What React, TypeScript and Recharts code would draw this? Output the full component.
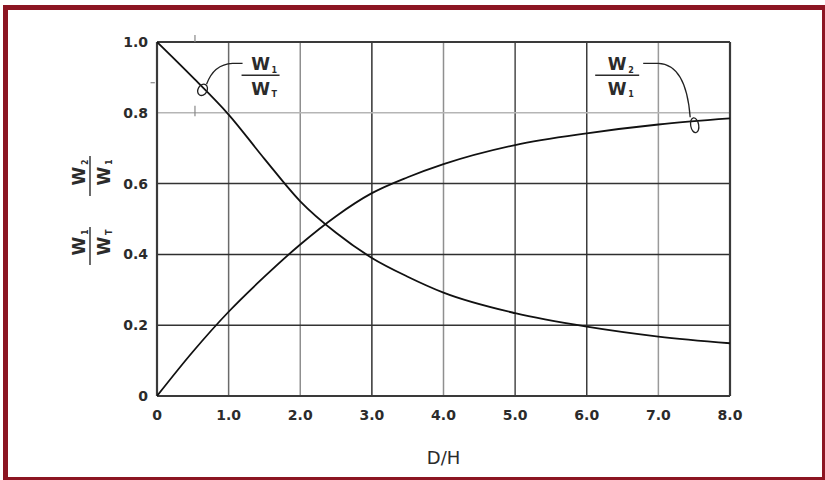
import React from "react";
import {
  LineChart,
  Line,
  XAxis,
  YAxis,
  ReferenceLine,
  ReferenceDot,
} from "recharts";

// D/H values along the x axis
const dOverH = [0, 0.5, 1, 1.5, 2, 2.5, 3, 3.5, 4, 5, 6, 7, 8];
// falling curve W1/WT
const w1OverWt = [1.0, 0.9, 0.795, 0.67, 0.55, 0.461, 0.39, 0.337, 0.292, 0.234, 0.196, 0.168, 0.149];
// rising curve W2/W1
const w2OverW1 = [0, 0.125, 0.238, 0.337, 0.428, 0.508, 0.573, 0.618, 0.655, 0.709, 0.742, 0.767, 0.784];

const xTicks = [0, 1, 2, 3, 4, 5, 6, 7, 8];
const yTicks = [0, 0.2, 0.4, 0.6, 0.8, 1.0];
const xGrid = [1, 2, 3, 4, 5, 6, 7];
const yGrid = [0.2, 0.4, 0.6, 0.8];

const data = dOverH.map((x, i) => ({ x, w1wt: w1OverWt[i], w2w1: w2OverW1[i] }));

// scanned look: some grid lines came out lighter than others
const xGridColor: Record<number, string> = {
  1: "#6a6a6a", 2: "#8f8f8f", 3: "#333", 4: "#8f8f8f", 5: "#4a4a4a", 6: "#3c3c3c", 7: "#9a9a9a",
};
const yGridColor: Record<number, string> = { 0.2: "#333", 0.4: "#2e2e2e", 0.6: "#333", 0.8: "#b5b5b5" };

// stray scan marks near the top-left corner
const strayMarks = [
  [{ x: 0.53, y: 1.0 }, { x: 0.53, y: 1.02 }],
  [{ x: 0.53, y: 0.79 }, { x: 0.53, y: 0.82 }],
  [{ x: -0.09, y: 0.885 }, { x: -0.03, y: 0.885 }],
];

const FONT = "'DejaVu Sans', Arial, sans-serif";
const INK = "#2b2b2b";

const fmt = (v: number) => (v === 0 ? "0" : v.toFixed(1));

// a small "W over W" fraction, drawn around (0,0) = centre of the bar
function Fraction({ num, den, w = 40 }: { num: string; den: string; w?: number }) {
  const wStyle = { fontFamily: FONT, fontWeight: "bold" as const, fontSize: 17, fill: INK };
  const subStyle = { fontFamily: FONT, fontWeight: "bold" as const, fontSize: 8, fill: INK };
  return (
    <g>
      <text x={0} y={-5} textAnchor="middle" style={wStyle}>W</text>
      <text x={11} y={-2} style={subStyle}>{num}</text>
      <line x1={-w / 2} x2={w / 2} y1={0} y2={0} stroke={INK} strokeWidth={1.4} />
      <text x={0} y={20} textAnchor="middle" style={wStyle}>W</text>
      <text x={11} y={22} style={subStyle}>{den}</text>
    </g>
  );
}

// loop + leader + label for the falling curve
const LeftNote = (props: any) => {
  const { cx, cy } = props;
  return (
    <g>
      <ellipse cx={cx - 1} cy={cy + 2.5} rx={4.5} ry={6} transform={`rotate(30 ${cx - 1} ${cy + 2.5})`}
        fill="none" stroke="#222" strokeWidth={1.3} />
      <path d={`M ${cx + 3} ${cy - 3} Q ${cx + 10} ${cy - 23} ${cx + 29} ${cy - 24} L ${cx + 39} ${cy - 24}`}
        fill="none" stroke="#222" strokeWidth={1.3} />
      <g transform={`translate(${cx + 57} ${cy - 12})`}>
        <Fraction num="1" den="T" w={38} />
      </g>
    </g>
  );
};

// loop + leader + label for the rising curve
const RightNote = (props: any) => {
  const { cx, cy } = props;
  return (
    <g>
      <ellipse cx={cx + 0.5} cy={cy + 4} rx={4} ry={7.5} transform={`rotate(-10 ${cx + 0.5} ${cy + 4})`}
        fill="none" stroke="#222" strokeWidth={1.3} />
      <path d={`M ${cx - 51} ${cy - 58} L ${cx - 36} ${cy - 58} Q ${cx - 8} ${cy - 57} ${cx - 4} ${cy - 4}`}
        fill="none" stroke="#222" strokeWidth={1.3} />
      <g transform={`translate(${cx - 77} ${cy - 46})`}>
        <Fraction num="2" den="1" w={44} />
      </g>
    </g>
  );
};

export default function App() {
  return (
    <div style={{ position: "absolute", left: 0, top: 0, width: 825, height: 480, background: "#fff" }}>
      {/* red frame */}
      <div
        style={{
          position: "absolute", left: 3, top: 5, width: 822, height: 475, boxSizing: "border-box",
          borderStyle: "solid", borderColor: "#8c1522", borderWidth: "5px 3px 3px 5px",
        }}
      />
      <div style={{ position: "absolute", left: 0, top: 0 }}>
        <LineChart width={825} height={480} data={data} margin={{ top: 42, right: 95, bottom: 24, left: 107 }}>
          <XAxis
            dataKey="x"
            type="number"
            domain={[0, 8]}
            ticks={xTicks}
            tickFormatter={fmt}
            axisLine={false}
            tickLine={false}
            tickSize={6}
            tickMargin={8}
            height={60}
            allowDataOverflow
            tick={{ fontFamily: FONT, fontWeight: "bold", fontSize: 14, fill: INK }}
            label={{ value: "D/H", position: "insideBottom", offset: -8, style: { fontFamily: FONT, fontSize: 18, fill: INK } }}
          />
          <YAxis
            type="number"
            domain={[0, 1]}
            ticks={yTicks}
            tickFormatter={fmt}
            axisLine={false}
            tickLine={false}
            tickSize={6}
            tickMargin={3}
            width={50}
            allowDataOverflow
            tick={{ fontFamily: FONT, fontWeight: "bold", fontSize: 14, fill: INK }}
          />
          {xGrid.map((v) => (
            <ReferenceLine key={"gx" + v} x={v} stroke={xGridColor[v]} strokeWidth={1.5} />
          ))}
          {yGrid.map((v) => (
            <ReferenceLine key={"gy" + v} y={v} stroke={yGridColor[v]} strokeWidth={1.5} />
          ))}
          <ReferenceLine x={0} stroke="#3a3a3a" strokeWidth={2.2} />
          <ReferenceLine x={8} stroke="#3a3a3a" strokeWidth={2.2} />
          <ReferenceLine y={0} stroke="#3a3a3a" strokeWidth={2.2} />
          <ReferenceLine y={1} stroke="#3a3a3a" strokeWidth={2.2} />
          {strayMarks.map((seg, i) => (
            <ReferenceLine key={"s" + i} segment={seg} stroke="#888" strokeWidth={1.2} ifOverflow="visible" />
          ))}
          <Line type="monotone" dataKey="w1wt" stroke="#111" strokeWidth={1.8} dot={false} isAnimationActive={false} />
          <Line type="monotone" dataKey="w2w1" stroke="#111" strokeWidth={1.8} dot={false} isAnimationActive={false} />
          <ReferenceDot x={0.65} y={0.872} r={0} ifOverflow="visible" shape={LeftNote} />
          <ReferenceDot x={7.5} y={0.776} r={0} ifOverflow="visible" shape={RightNote} />
        </LineChart>
      </div>
      {/* stacked y-axis title, rotated */}
      <svg width={825} height={480} style={{ position: "absolute", left: 0, top: 0, pointerEvents: "none" }}>
        <g transform="translate(90 176) rotate(-90)">
          <Fraction num="2" den="1" w={40} />
        </g>
        <g transform="translate(90 246) rotate(-90)">
          <Fraction num="1" den="T" w={38} />
        </g>
      </svg>
    </div>
  );
}
